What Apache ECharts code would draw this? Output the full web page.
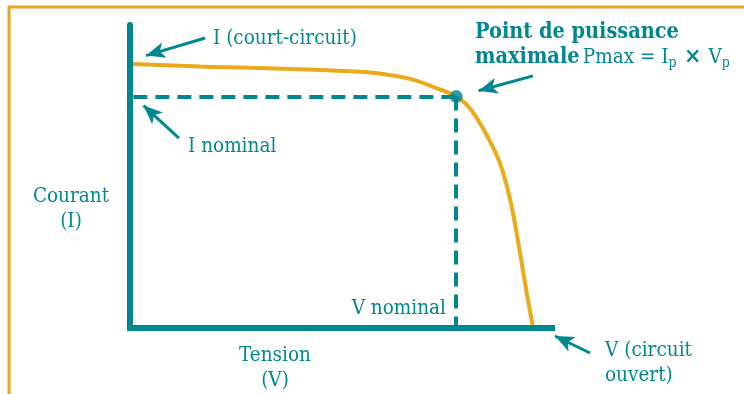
<!DOCTYPE html>
<html>
<head>
<meta charset="utf-8">
<script src="https://cdn.jsdelivr.net/npm/echarts@6/dist/echarts.min.js"></script>
<style>
  html, body { margin: 0; padding: 0; background: #ffffff; }
  #main { width: 744px; height: 394px; }
</style>
</head>
<body>
<div id="main"></div>
<script>
// courbe I-V (unités arbitraires, 0..100 sur chaque axe)
var voltage = [0.7, 16.6, 28.4, 40.3, 52.1, 60.0, 66.4, 71.8, 77.3, 79.8, 82.2, 84.5, 86.5, 88.1, 90.2, 92.2, 94.1, 95.4];
var current = [87.1, 86.3, 85.9, 85.4, 84.7, 83.8, 82.2, 79.6, 76.4, 73.6, 69.2, 63.7, 58.2, 52.7, 41.7, 26.5, 10.9, 1.0];
var mpp = [77.3, 76.4]; // point de puissance maximale (Vp, Ip)

var teal = "#00878f";
var gold = "#eaaa1a";
var font = "'DejaVu Serif Condensed', 'DejaVu Serif', serif";

var chart = echarts.init(document.getElementById("main"));

var curve = voltage.map(function (v, i) { return [v, current[i]]; });

var arrow = function (from, to) {
  return [
    { coord: from, symbol: "none" },
    { coord: to, symbol: "arrow", symbolSize: [12, 19] }
  ];
};

var label = function (x, y, text, align) {
  return {
    type: "text", x: x, y: y,
    style: { text: text, font: "20.5px " + font, fill: teal, align: align || "left", verticalAlign: "top", lineHeight: 25 }
  };
};

var option = {
  animation: false,
  grid: { left: 130, right: 192, top: 25, bottom: 66 },
  xAxis: {
    type: "value", min: 0, max: 100,
    axisLine: { lineStyle: { color: teal, width: 6, cap: "square" } },
    axisTick: { show: false }, axisLabel: { show: false }, splitLine: { show: false }
  },
  yAxis: {
    type: "value", min: 0, max: 100,
    axisLine: { lineStyle: { color: teal, width: 6 } },
    axisTick: { show: false }, axisLabel: { show: false }, splitLine: { show: false }
  },
  graphic: [
    // cadre orange
    { type: "rect", shape: { x: 9, y: 7, width: 900, height: 500 }, style: { fill: "none", stroke: "#e9a425", lineWidth: 3 }, silent: true, z: -1 },
    label(213, 26, "I (court-circuit)"),
    label(188, 134, "I nominal"),
    label(71, 184, "Courant\n(I)", "center"),
    label(446, 296, "V nominal", "right"),
    label(275, 343, "Tension\n(V)", "center"),
    label(605, 338, "V (circuit\nouvert)"),
    {
      type: "text", x: 475, y: 20,
      style: {
        text: "{b|Point de puissance}\n{b|maximale} {n|Pmax = I}{s|p}{x| × }{n|V}{s|p}",
        fill: teal,
        rich: {
          b: { font: "bold 21.5px " + font, fill: teal, lineHeight: 25 },
          n: { font: "20.5px " + font, fill: teal, lineHeight: 25 },
          x: { font: "bold 23px " + font, fill: teal, lineHeight: 25 },
          s: { font: "14px " + font, fill: teal, lineHeight: 25, verticalAlign: "bottom" }
        }
      }
    }
  ],
  series: [
    {
      type: "line",
      data: curve,
      smooth: 0.5,
      showSymbol: false,
      lineStyle: { color: gold, width: 4 },
      markLine: {
        silent: true,
        symbol: "none",
        label: { show: false },
        lineStyle: { color: teal, width: 4, type: [14, 8] },
        data: [
          [{ coord: [0.8, mpp[1]] }, { coord: mpp }],
          [{ coord: mpp }, { coord: [mpp[0], 0] }]
        ]
      }
    },
    {
      type: "scatter",
      data: [mpp],
      symbolSize: 13,
      itemStyle: { color: teal },
      z: 5
    },
    {
      // flèches d'annotation
      type: "line",
      data: [],
      markLine: {
        silent: true,
        label: { show: false },
        lineStyle: { color: teal, width: 3, type: "solid" },
        data: [
          arrow([17.8, 95.7], [3.8, 89.9]),
          arrow([11.6, 62.7], [3.2, 73.4]),
          arrow([95.5, 83.2], [82.6, 78.3]),
          [
            { x: 590, y: 353, symbol: "none" },
            { x: 555, y: 336, symbol: "arrow", symbolSize: [12, 19] }
          ]
        ]
      }
    }
  ]
};

chart.setOption(option);
</script>
</body>
</html>
